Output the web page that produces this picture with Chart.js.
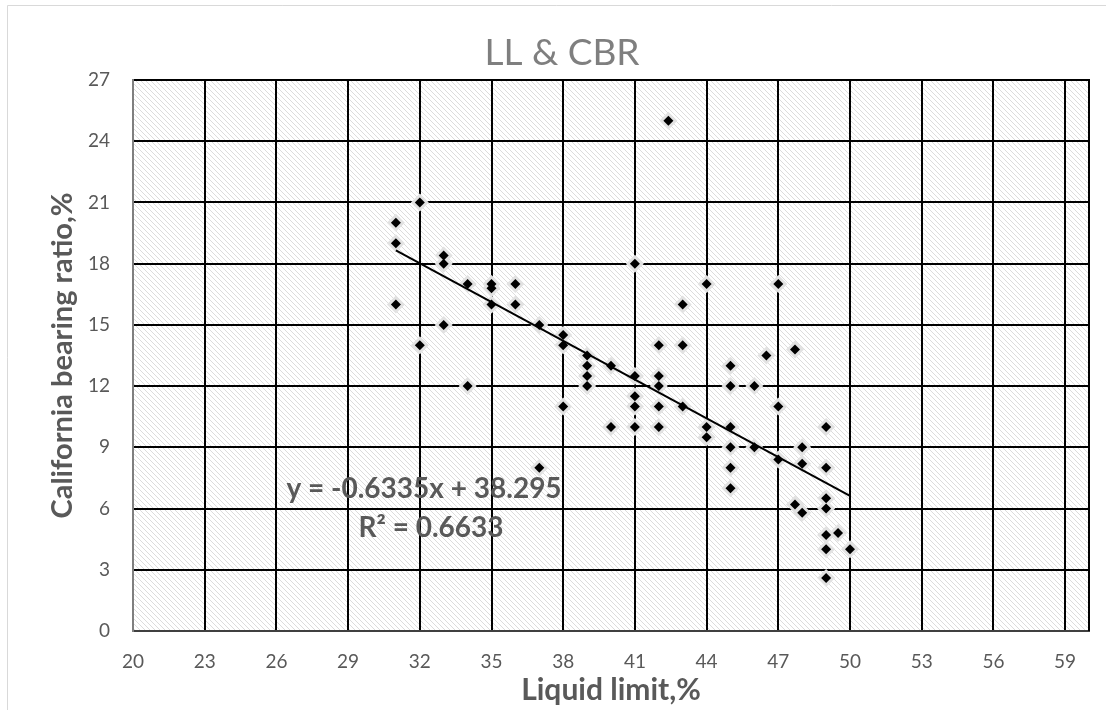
<!DOCTYPE html>
<html>
<head>
<meta charset="utf-8">
<title>LL &amp; CBR</title>
<script src="https://cdn.jsdelivr.net/npm/chart.js@4.4.1/dist/chart.umd.min.js"></script>
<style>
  html, body { margin: 0; padding: 0; background: #fff; }
  #wrap { width: 1106px; height: 710px; }
</style>
</head>
<body>
<div id="wrap"><canvas id="chart" width="1106" height="710"></canvas></div>
<script>
// Liquid limit (%) and CBR (%) of each sample, same order in both arrays
const liquidLimit = [
  31, 31, 31,
  32, 32,
  33, 33, 33,
  34, 34,
  35, 35, 35,
  36, 36,
  37, 37,
  38, 38, 38,
  39, 39, 39, 39,
  40, 40,
  41, 41, 41, 41, 41,
  42.4,
  42, 42, 42, 42, 42,
  43, 43, 43,
  44, 44, 44,
  45, 45, 45, 45, 45, 45,
  46, 46,
  46.5,
  47, 47, 47,
  47.7, 47.7,
  48, 48, 48,
  49, 49, 49, 49, 49, 49, 49,
  49.5,
  50
];
const cbr = [
  20, 19, 16,
  21, 14,
  18.4, 18, 15,
  17, 12,
  17, 16.8, 16,
  17, 16,
  15, 8,
  14.5, 14, 11,
  13.5, 13, 12.5, 12,
  13, 10,
  18, 12.5, 11.5, 11, 10,
  25,
  14, 12.5, 12, 11, 10,
  16, 14, 11,
  17, 10, 9.5,
  13, 12, 10, 9, 8, 7,
  12, 9,
  13.5,
  17, 11, 8.4,
  13.8, 6.2,
  9, 8.2, 5.8,
  10, 8, 6.5, 6, 4.7, 4, 2.6,
  4.8,
  4
];

const xTickValues = [20, 23, 26, 29, 32, 35, 38, 41, 44, 47, 50, 53, 56, 59];
const yTickStep = 3;

// linear trend line reported on the chart
const trendSlope = -0.6335;
const trendIntercept = 38.295;
const trendRSquared = 0.6633;
const trendRange = [31, 50];

const chartTitle = 'LL & CBR';
const xTitle = 'Liquid limit,%';
const yTitle = 'California bearing ratio,%';

Chart.defaults.font.family = 'Lato, "Open Sans", sans-serif';

// light diagonal hatching used as the plot background
function makeHatch() {
  const c = document.createElement('canvas');
  c.width = 5;
  c.height = 5;
  const g = c.getContext('2d');
  g.fillStyle = '#ffffff';
  g.fillRect(0, 0, 5, 5);
  g.strokeStyle = '#dcdcdc';
  g.lineWidth = 1;
  g.beginPath();
  g.moveTo(-1, -1); g.lineTo(6, 6);
  g.moveTo(-1, 4); g.lineTo(1, 6);
  g.moveTo(4, -1); g.lineTo(6, 1);
  g.stroke();
  return c;
}

const decor = {
  id: 'decor',
  beforeDraw(chart) {
    const ctx = chart.ctx;
    const a = chart.chartArea;
    ctx.save();
    ctx.fillStyle = '#fff';
    ctx.fillRect(0, 0, chart.width, chart.height);
    // outer chart box
    ctx.strokeStyle = '#d9d9d9';
    ctx.lineWidth = 1;
    ctx.beginPath();
    ctx.moveTo(7.5, chart.height);
    ctx.lineTo(7.5, 5.5);
    ctx.lineTo(chart.width, 5.5);
    ctx.stroke();
    ctx.fillStyle = ctx.createPattern(makeHatch(), 'repeat');
    ctx.fillRect(a.left, a.top, a.right - a.left, a.bottom - a.top);
    ctx.restore();
  },
  afterDraw(chart) {
    const ctx = chart.ctx;
    const a = chart.chartArea;
    ctx.save();
    // right edge of the plot area
    ctx.strokeStyle = '#000';
    ctx.lineWidth = 2;
    ctx.beginPath();
    ctx.moveTo(a.right, a.top - 1);
    ctx.lineTo(a.right, a.bottom);
    ctx.stroke();

    ctx.textAlign = 'center';
    ctx.textBaseline = 'alphabetic';
    ctx.fillStyle = '#7f7f7f';
    ctx.font = '37px Lato';
    ctx.fillText(chartTitle, 562, 65);

    ctx.fillStyle = '#595959';
    ctx.font = 'bold 30px Lato';
    ctx.fillText(xTitle, (a.left + a.right) / 2, 700);

    ctx.save();
    ctx.translate(72, (a.top + a.bottom) / 2);
    ctx.rotate(-Math.PI / 2);
    ctx.font = 'bold 29px Lato';
    ctx.fillText(yTitle, 0, 0);
    ctx.restore();

    // trend equation
    ctx.font = 'bold 28px Lato';
    ctx.fillText('y = ' + trendSlope + 'x + ' + trendIntercept, 424, 498);
    ctx.fillText('R\u00b2 = ' + trendRSquared, 431, 537);
    ctx.restore();
  }
};

const points = liquidLimit.map((x, i) => ({ x: x, y: cbr[i] }));
const trend = trendRange.map(x => ({ x: x, y: trendSlope * x + trendIntercept }));

const axisFont = { family: 'Lato', size: 19 };

new Chart(document.getElementById('chart'), {
  type: 'scatter',
  data: {
    datasets: [
      {
        type: 'line',
        data: trend,
        borderColor: '#000',
        borderWidth: 2,
        pointRadius: 0,
        fill: false,
        order: 0
      },
      {
        data: points,
        pointStyle: 'rectRot',
        pointRadius: 5,
        backgroundColor: '#000',
        borderWidth: 0,
        order: 1
      },
      {
        // soft halo behind each marker
        data: points,
        pointStyle: 'rectRot',
        pointRadius: 9,
        backgroundColor: '#e2e2e2',
        borderWidth: 0,
        order: 2
      }
    ]
  },
  options: {
    responsive: false,
    animation: false,
    layout: { padding: { top: 80, right: 17, left: 0, bottom: 0 } },
    plugins: {
      legend: { display: false },
      tooltip: { enabled: false }
    },
    scales: {
      x: {
        type: 'linear',
        min: 20,
        max: 60,
        afterBuildTicks: s => { s.ticks = xTickValues.map(v => ({ value: v })); },
        afterFit: s => { s.height = 79; },
        grid: { color: '#000', lineWidth: 2, drawTicks: false },
        border: { color: '#404040', width: 2 },
        ticks: { font: axisFont, color: '#595959', padding: 19 }
      },
      y: {
        min: 0,
        max: 27,
        afterFit: s => { s.width = 133; },
        grid: { color: '#000', lineWidth: 2, drawTicks: false },
        border: { color: '#7f7f7f', width: 2 },
        ticks: { stepSize: yTickStep, font: axisFont, color: '#595959', padding: 23 }
      }
    }
  },
  plugins: [decor]
});
</script>
</body>
</html>
